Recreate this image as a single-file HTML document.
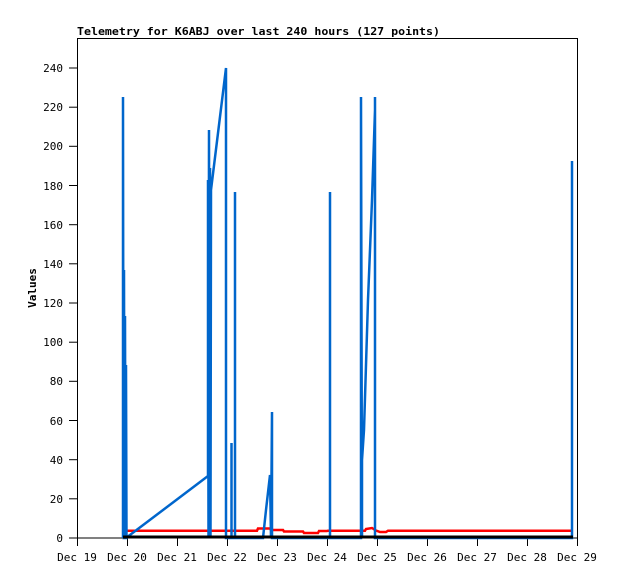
<!DOCTYPE html>
<html><head><style>body{margin:0;background:#fff}svg{display:block}text{font-family:"DejaVu Sans Mono","Liberation Mono",monospace;font-size:11px;fill:#000}</style></head><body>
<svg width="618" height="579" xmlns="http://www.w3.org/2000/svg">
<text x="77" y="35" style="font-weight:bold" textLength="363" lengthAdjust="spacingAndGlyphs">Telemetry for K6ABJ over last 240 hours (127 points)</text>
<text x="36" y="288" transform="rotate(-90 36 288)" text-anchor="middle" style="font-weight:bold">Values</text>
<rect x="77.5" y="38.5" width="500" height="499.5" fill="none" stroke="#000"/>
<g stroke="#000">
<line x1="69" y1="538" x2="77" y2="538"/><line x1="69" y1="498.8" x2="77" y2="498.8"/><line x1="69" y1="459.7" x2="77" y2="459.7"/><line x1="69" y1="420.5" x2="77" y2="420.5"/><line x1="69" y1="381.3" x2="77" y2="381.3"/><line x1="69" y1="342.2" x2="77" y2="342.2"/><line x1="69" y1="303" x2="77" y2="303"/><line x1="69" y1="263.8" x2="77" y2="263.8"/><line x1="69" y1="224.7" x2="77" y2="224.7"/><line x1="69" y1="185.5" x2="77" y2="185.5"/><line x1="69" y1="146.3" x2="77" y2="146.3"/><line x1="69" y1="107.2" x2="77" y2="107.2"/><line x1="69" y1="68" x2="77" y2="68"/>
<line x1="77.5" y1="538" x2="77.5" y2="546"/><line x1="127.5" y1="538" x2="127.5" y2="546"/><line x1="177.5" y1="538" x2="177.5" y2="546"/><line x1="227.5" y1="538" x2="227.5" y2="546"/><line x1="277.5" y1="538" x2="277.5" y2="546"/><line x1="327.5" y1="538" x2="327.5" y2="546"/><line x1="377.5" y1="538" x2="377.5" y2="546"/><line x1="427.5" y1="538" x2="427.5" y2="546"/><line x1="477.5" y1="538" x2="477.5" y2="546"/><line x1="527.5" y1="538" x2="527.5" y2="546"/><line x1="577.5" y1="538" x2="577.5" y2="546"/>
</g>
<g text-anchor="end">
<text x="63" y="542">0</text><text x="63" y="503">20</text><text x="63" y="464">40</text><text x="63" y="425">60</text><text x="63" y="385">80</text><text x="63" y="346">100</text><text x="63" y="307">120</text><text x="63" y="268">140</text><text x="63" y="229">160</text><text x="63" y="190">180</text><text x="63" y="150">200</text><text x="63" y="111">220</text><text x="63" y="72">240</text>
</g>
<g text-anchor="middle">
<text x="77" y="561">Dec 19</text><text x="127" y="561">Dec 20</text><text x="177" y="561">Dec 21</text><text x="227" y="561">Dec 22</text><text x="277" y="561">Dec 23</text><text x="327" y="561">Dec 24</text><text x="377" y="561">Dec 25</text><text x="427" y="561">Dec 26</text><text x="477" y="561">Dec 27</text><text x="527" y="561">Dec 28</text><text x="577" y="561">Dec 29</text>
</g>
<polyline fill="none" stroke="#f00" stroke-width="2.5" points="123,530.7 257,530.7 258,528.5 270,528.5 271,530 283,530 284,531.5 303,531.5 304,533 318,533 319,531 327,531 328,530.7 365,530.7 366,529 372,528 376,530.5 380,532 386,532 388,530.7 573,530.7"/>
<polyline fill="none" stroke="#0066cc" stroke-width="2.5" stroke-linejoin="miter" points="123,538 123,97 123.5,538 124,270 124.5,538 125,316 125.5,538 126,365 126.5,538 126,538 208,476 208,180 208.5,538 209,130 209.5,538 210,168 210.5,538 211,190 226,68 226,538 226.5,538 231.5,538 231.5,443 231.5,538 235,538 235,192 235,538 263,538 266,510 270,475 271,538 272,412 272,538 330,538 330,192 330,538 361,538 361,97 362,538 362,460 364,430 368,300 372,200 375,110 375,97 375,538 572,538 572,161 572,538"/>
<line x1="123" y1="537" x2="573" y2="537" stroke="#000" stroke-width="3"/>
</svg>
</body></html>
